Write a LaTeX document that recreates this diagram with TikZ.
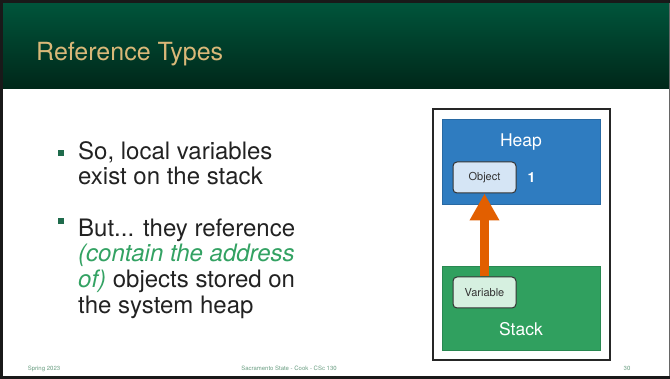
\documentclass[tikz,border=0pt]{standalone}
\usepackage{fontspec}
\setmainfont{TeX Gyre Heros}
\usetikzlibrary{arrows.meta}
\definecolor{bartop}{HTML}{00563C}
\definecolor{barbot}{HTML}{002719}
\definecolor{titlegold}{HTML}{D9B878}
\definecolor{bodytext}{HTML}{222222}
\definecolor{accentgreen}{HTML}{33A263}
\definecolor{bulletgreen}{HTML}{1F6B4C}
\definecolor{heapblue}{HTML}{2F7CC0}
\definecolor{stackgreen}{HTML}{30A05F}
\definecolor{objfill}{HTML}{D5E5F5}
\definecolor{varfill}{HTML}{D6F0E0}
\definecolor{refarrow}{HTML}{E25F00}
\definecolor{footgreen}{HTML}{6A9E82}
\tikzset{
  bodyline/.style={anchor=base west, inner sep=0, text=bodytext, font=\fontsize{24}{25.5}\selectfont},
  bulletsq/.style={fill=bulletgreen, inner sep=0, minimum size=5.5pt},
  region/.style={inner sep=0, draw=#1!85!black, fill=#1, line width=0.6pt},
  cell/.style={inner sep=0, rounded corners=4pt, draw=black!80, line width=1pt, minimum width=63pt, minimum height=31pt, font=\fontsize{11}{12}\selectfont, text=black!80},
  regionlabel/.style={text=white, inner sep=0, font=\fontsize{17.5}{18}\selectfont},
  foot/.style={anchor=base, inner sep=0, text=footgreen, font=\fontsize{6}{6}\selectfont}
}
\begin{document}
\begin{tikzpicture}[x=1pt,y=-1pt]
\useasboundingbox (0,0) rectangle (670,379);
\fill[white] (0,0) rectangle (670,379);
% title bar
\shade[top color=bartop, bottom color=barbot] (0,0) rectangle (670,89);
\node[anchor=base west, inner sep=0, text=titlegold, font=\fontsize{25}{26}\selectfont] (title) at (36,61) {Reference Types};
% slide frame
\draw[black!60, line width=1pt] (669.5,0) -- (669.5,379);
\draw[black!90, line width=2.6pt] (670,1.3) -- (1.3,1.3) -- (1.3,377.7) -- (670,377.7);
% bullet list
\node[bulletsq] (b1) at (61,153) {};
\node[bodyline] (l1) at (78,160) {So, local variables};
\node[bodyline] (l2) at (78,185) {exist on the stack};
\node[bulletsq] (b2) at (61,221) {};
\node[bodyline] (l3) at (78,236.5) {But... they reference};
\node[bodyline] (l4) at (78,262) {\textcolor{accentgreen}{\itshape(contain the address}};
\node[bodyline] (l5) at (78,288) {\textcolor{accentgreen}{\itshape of)} objects stored on};
\node[bodyline] (l6) at (78,313.5) {the system heap};
% memory diagram
\node[draw=black!85, line width=1.3pt, minimum width=177pt, minimum height=251pt, inner sep=0] (frame) at (521.5,234.5) {};
\node[region=heapblue, minimum width=158pt, minimum height=85pt] (heap) at (521,161.5) {};
\node[region=stackgreen, minimum width=158pt, minimum height=84pt] (stack) at (521,308) {};
\node[regionlabel] (heaplbl) at (521,142.5) {Heap};
\node[regionlabel] (stacklbl) at (521,329) {Stack};
\node[cell, fill=objfill] (object) at (484.5,177.5) {Object};
\node[cell, fill=varfill] (variable) at (484.5,292.5) {Variable};
\node[text=white, inner sep=0, font=\fontsize{14}{14}\selectfont\bfseries] (count) at (531.5,178) {1};
\draw[refarrow, line width=9pt, -{Triangle[width=28pt,length=27pt]}] (variable.north) -- (object.south);
% footer
\node[foot] (f1) at (44,371) {Spring 2023};
\node[foot] (f2) at (289,371) {Sacramento State - Cook - CSc 130};
\node[foot] (f3) at (627,371) {30};
\end{tikzpicture}
\end{document}
